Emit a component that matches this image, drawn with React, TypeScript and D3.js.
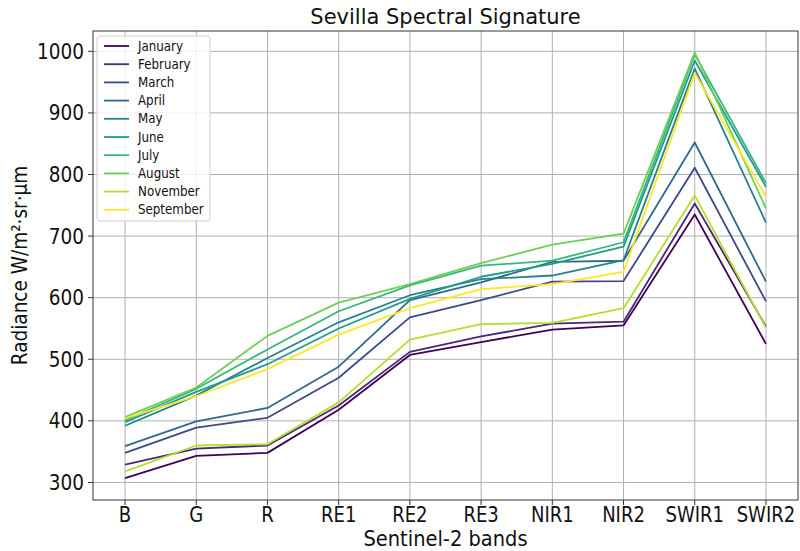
import React from "react";
import * as d3 from "d3";

// Sentinel-2 bands on the x axis
const BANDS = ["B", "G", "R", "RE1", "RE2", "RE3", "NIR1", "NIR2", "SWIR1", "SWIR2"];

// Legend order (also the viridis colour order)
const MONTHS = ["January", "February", "March", "April", "May", "June", "July", "August", "November", "September"];

// Mean radiance per band (W/m²·sr·µm)
const JANUARY = [307, 343, 348, 418, 507, 528, 548, 555, 735, 525];
const FEBRUARY = [329, 355, 360, 425, 512, 537, 558, 561, 753, 553];
const MARCH = [348, 389, 405, 470, 568, 596, 626, 627, 811, 594];
const APRIL = [359, 399, 421, 488, 596, 625, 658, 660, 852, 626];
const MAY = [392, 441, 502, 560, 604, 630, 636, 661, 972, 722];
const JUNE = [398, 447, 492, 550, 598, 634, 655, 683, 985, 780];
const JULY = [401, 452, 516, 578, 620, 652, 660, 690, 995, 786];
const AUGUST = [406, 454, 538, 592, 622, 656, 686, 704, 998, 745];
const NOVEMBER = [318, 360, 362, 430, 532, 557, 559, 583, 766, 551];
const SEPTEMBER = [404, 440, 484, 540, 583, 614, 622, 642, 965, 764];

const SERIES = [JANUARY, FEBRUARY, MARCH, APRIL, MAY, JUNE, JULY, AUGUST, NOVEMBER, SEPTEMBER];

const Y_TICKS = [300, 400, 500, 600, 700, 800, 900, 1000];

const W = 800;
const H = 551;
const M = { left: 93, right: 798, top: 31, bottom: 500 };
const FONT = "DejaVu Sans, sans-serif";
const SX = 0.88; // horizontal text compression

export default function App() {
  const x = d3.scaleLinear().domain([-0.45, BANDS.length - 1 + 0.45]).range([M.left, M.right]);
  const y = d3.scaleLinear().domain([271.5, 1033]).range([M.bottom, M.top]);
  const color = (i: number) => d3.interpolateViridis(i / (MONTHS.length - 1));
  const line = d3
    .line<number>()
    .x((_, i) => x(i))
    .y((d) => y(d));

  const T = (props: { x: number; y: number; size: number; anchor?: string; rotate?: number; sx?: number; children: React.ReactNode }) => (
    <g transform={`translate(${props.x},${props.y}) rotate(${props.rotate || 0}) scale(${props.sx ?? SX},1)`}>
      <text fontFamily={FONT} fontSize={props.size} textAnchor={props.anchor || "middle"} fill="#111">
        {props.children}
      </text>
    </g>
  );

  const legX = 97;
  const legY = 36;
  const legW = 113;
  const legH = 185;
  const legStep = 18.2;

  return (
    <svg width={W} height={H} style={{ position: "absolute", left: 0, top: 0, background: "#fff" }}>
      <rect x={0} y={0} width={W} height={H} fill="#fff" />
      {/* grid */}
      <g stroke="#b0b0b0" strokeWidth={1}>
        {BANDS.map((b, i) => (
          <line key={b} x1={x(i)} x2={x(i)} y1={M.top} y2={M.bottom} />
        ))}
        {Y_TICKS.map((t) => (
          <line key={t} x1={M.left} x2={M.right} y1={y(t)} y2={y(t)} />
        ))}
      </g>
      {/* series */}
      <g fill="none" strokeWidth={1.8} strokeLinejoin="round">
        {SERIES.map((s, i) => (
          <path key={MONTHS[i]} d={line(s) || ""} stroke={color(i)} />
        ))}
      </g>
      {/* frame */}
      <rect x={M.left} y={M.top} width={M.right - M.left} height={M.bottom - M.top} fill="none" stroke="#333" strokeWidth={1} />
      {/* x ticks */}
      {BANDS.map((b, i) => (
        <g key={b}>
          <line x1={x(i)} x2={x(i)} y1={M.bottom} y2={M.bottom + 5} stroke="#333" />
          <T x={x(i)} y={M.bottom + 22} size={20.5}>
            {b}
          </T>
        </g>
      ))}
      {/* y ticks */}
      {Y_TICKS.map((t) => (
        <g key={t}>
          <line x1={M.left - 5} x2={M.left} y1={y(t)} y2={y(t)} stroke="#333" />
          <T x={M.left - 9} y={y(t) + 7.5} size={21} anchor="end">
            {t}
          </T>
        </g>
      ))}
      {/* labels */}
      <T x={(M.left + M.right) / 2} y={24} size={21} sx={1}>
        Sevilla Spectral Signature
      </T>
      <T x={(M.left + M.right) / 2} y={545.5} size={20.5} sx={0.95}>
        Sentinel-2 bands
      </T>
      <T x={27} y={(M.top + M.bottom) / 2} size={21} rotate={-90}>
        Radiance W/m²·sr·µm
      </T>
      {/* legend */}
      <rect x={legX} y={legY} width={legW} height={legH} rx={3} fill="#fff" fillOpacity={0.8} stroke="#d0d0d0" />
      {MONTHS.map((m, i) => {
        const ly = legY + 10 + i * legStep;
        return (
          <g key={m}>
            <line x1={legX + 7} x2={legX + 32} y1={ly} y2={ly} stroke={color(i)} strokeWidth={1.8} />
            <T x={legX + 41} y={ly + 4.5} size={13.5} anchor="start">
              {m}
            </T>
          </g>
        );
      })}
    </svg>
  );
}
